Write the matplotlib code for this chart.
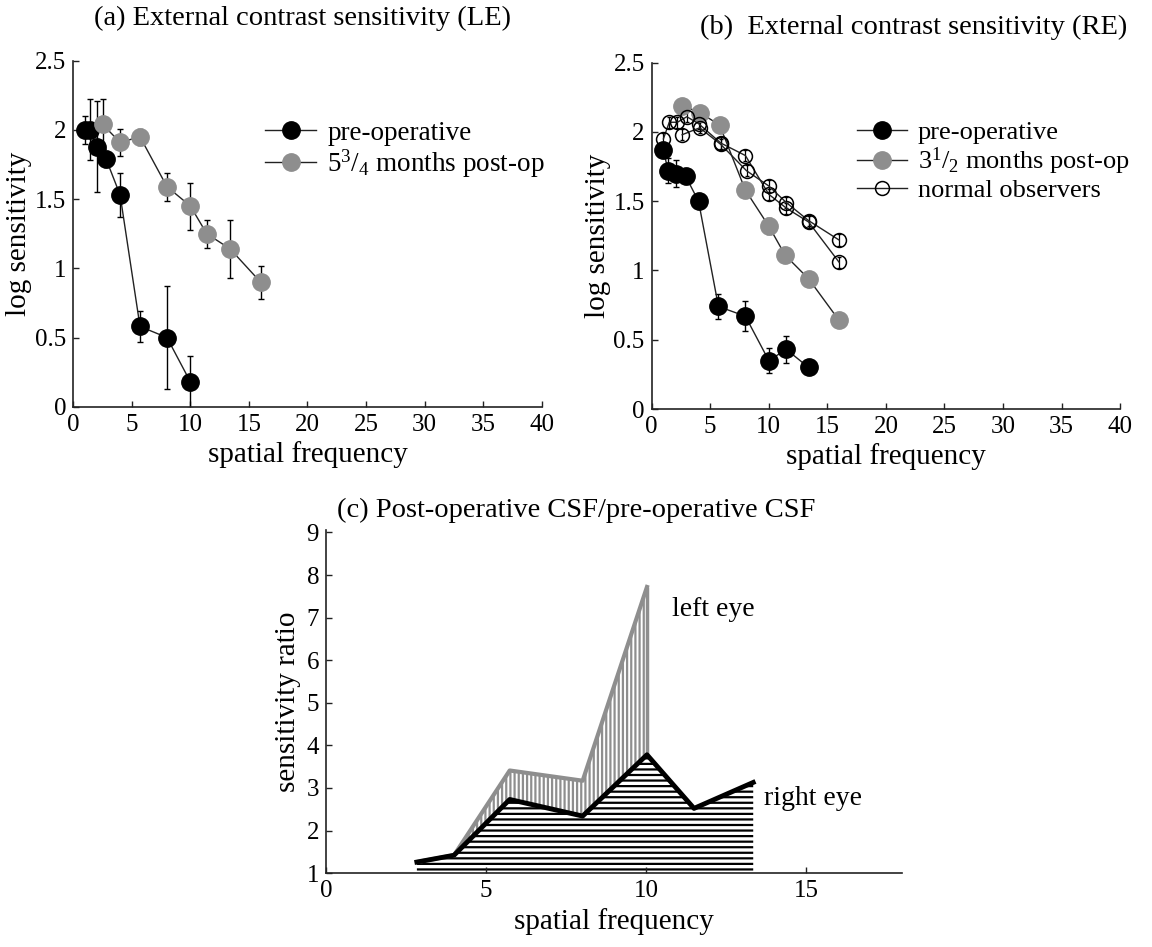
import numpy as np
import matplotlib
matplotlib.use("Agg")
import matplotlib.pyplot as plt

plt.rcParams['font.family'] = ['Liberation Serif', 'DejaVu Serif']
plt.rcParams['mathtext.fontset'] = 'custom'
plt.rcParams['mathtext.rm'] = 'Liberation Serif'
plt.rcParams['mathtext.it'] = 'Liberation Serif:italic'
plt.rcParams['hatch.linewidth'] = 1.6

GRAY = '#8e8e8e'

# (a) left eye
le_pre_f = [1.0, 1.4, 2.0, 2.8, 4.0, 5.7, 8.0, 10.0]
le_pre_s = [2.00, 2.00, 1.88, 1.79, 1.53, 0.58, 0.50, 0.18]
le_pre_err = [0.10, 0.22, 0.33, 0.06, 0.16, 0.11, 0.37, 0.19]
le_post_f = [2.5, 4.0, 5.7, 8.0, 10.0, 11.4, 13.4, 16.0]
le_post_s = [2.04, 1.91, 1.95, 1.59, 1.45, 1.25, 1.14, 0.90]
le_post_err = [0.18, 0.10, 0.06, 0.10, 0.17, 0.10, 0.21, 0.12]

# (b) right eye
re_pre_f = [1.0, 1.4, 2.1, 2.9, 4.0, 5.7, 8.0, 10.0, 11.5, 13.4]
re_pre_s = [1.87, 1.72, 1.70, 1.68, 1.50, 0.74, 0.67, 0.35, 0.43, 0.30]
re_pre_err = [0.05, 0.09, 0.10, 0.03, 0.0, 0.09, 0.11, 0.09, 0.095, 0.0]
re_post_f = [2.6, 4.1, 5.8, 8.0, 10.0, 11.4, 13.4, 16.0]
re_post_s = [2.19, 2.14, 2.05, 1.58, 1.32, 1.11, 0.94, 0.64]
re_post_err = [0.03, 0.03, 0.03, 0.05, 0.06, 0.03, 0.05, 0.04]
norm1_f = [1.0, 1.5, 2.2, 3.0, 4.0, 5.9, 8.0, 10.0, 11.5, 13.4, 16.0]
norm1_s = [1.95, 2.07, 2.07, 2.11, 2.06, 1.92, 1.83, 1.55, 1.45, 1.35, 1.06]
norm2_f = [2.6, 4.1, 5.9, 8.1, 10.0, 11.5, 13.4, 16.0]
norm2_s = [1.98, 2.03, 1.91, 1.72, 1.61, 1.49, 1.36, 1.22]
norm_err = 0.04

# (c) ratio post/pre
right_f = [2.84, 4.0, 5.74, 8.02, 10.03, 11.5, 13.35]
right_r = [1.26, 1.42, 2.73, 2.34, 3.78, 2.52, 3.13]
left_f = [2.84, 4.0, 5.74, 8.02, 10.03]
left_r = [1.26, 1.42, 3.41, 3.17, 7.72]

fig = plt.figure(figsize=(11.52, 9.47), dpi=100)
ax_a = fig.add_axes([0.0636, 0.5705, 0.4066, 0.3654])
ax_b = fig.add_axes([0.5657, 0.5681, 0.4066, 0.3657])
ax_c = fig.add_axes([0.283, 0.078, 0.5, 0.362])


def style(ax):
    for s in ['top', 'right']:
        ax.spines[s].set_visible(False)
    for s in ['left', 'bottom']:
        ax.spines[s].set_linewidth(1.2)
        ax.spines[s].set_color('#222222')
    ax.tick_params(direction='in', length=4, width=1, labelsize=18, pad=5, colors='#222222', labelcolor='black')


def csf(ax, f, s, err, face, ms, label):
    ax.errorbar(f, s, yerr=err, fmt='none', ecolor='black', elinewidth=1, capsize=2.5, capthick=1, zorder=2)
    ax.plot(f, s, '-', color='#222222', lw=1, marker='o', ms=ms, mfc=face, mec=face, label=label, zorder=3)


for ax in (ax_a, ax_b):
    style(ax)
    ax.set_xlim(0, 40)
    ax.set_ylim(0, 2.5)
    ax.set_xticks(range(0, 41, 5))
    ax.set_yticks([0, 0.5, 1, 1.5, 2, 2.5])
    ax.set_yticklabels(['0', '0.5', '1', '1.5', '2', '2.5'])
    ax.set_xlabel('spatial frequency', fontsize=21, labelpad=4)
    ax.set_ylabel('log sensitivity', fontsize=21, labelpad=2)

csf(ax_a, le_pre_f, le_pre_s, le_pre_err, 'black', 12.5, 'pre-operative')
csf(ax_a, le_post_f, le_post_s, le_post_err, GRAY, 12.5, '5$^3$/$_4$ months post-op')
ax_a.legend(loc='upper left', bbox_to_anchor=(0.38, 0.865), frameon=False, fontsize=19.5,
            handlelength=1.9, handletextpad=0.4, labelspacing=0.05, borderpad=0)

csf(ax_b, re_pre_f, re_pre_s, re_pre_err, 'black', 12.5, 'pre-operative')
csf(ax_b, re_post_f, re_post_s, re_post_err, GRAY, 12.5, '3$^1$/$_2$ months post-op')
for f, s in [(norm1_f, norm1_s), (norm2_f, norm2_s)]:
    ax_b.errorbar(f, s, yerr=norm_err, fmt='none', ecolor='black', elinewidth=0.9, capsize=1.5, zorder=2)
ax_b.plot(norm1_f, norm1_s, '-', color='#222222', lw=1, marker='o', ms=10, mfc='none', mec='black',
          mew=1.1, label='normal observers', zorder=3)
ax_b.plot(norm2_f, norm2_s, '-', color='#222222', lw=1, marker='o', ms=10, mfc='none', mec='black',
          mew=1.1, zorder=3)
ax_b.legend(loc='upper left', bbox_to_anchor=(0.41, 0.87), frameon=False, fontsize=19,
            handlelength=1.9, handletextpad=0.4, labelspacing=0.05, borderpad=0)

fig.text(0.263, 0.981, '(a) External contrast sensitivity (LE)', fontsize=20.5, ha='center', va='center')
fig.text(0.793, 0.971, '(b)  External contrast sensitivity (RE)', fontsize=20.5, ha='center', va='center')

# (c)
style(ax_c)
ax_c.set_xlim(0, 18)
ax_c.set_ylim(1, 9.05)
ax_c.set_xticks([0, 5, 10, 15])
ax_c.set_yticks(range(1, 10))
ax_c.set_xlabel('spatial frequency', fontsize=21, labelpad=4)
ax_c.set_ylabel('sensitivity ratio', fontsize=21, labelpad=4)

rf = np.array(right_f)
rr = np.array(right_r)
lf = np.array(left_f)
lr = np.array(left_r)
ax_c.fill_between(rf, 1, rr, facecolor='none', edgecolor='black', hatch='---', linewidth=0, zorder=1)
ax_c.fill_between(lf, np.interp(lf, rf, rr), lr, facecolor='none', edgecolor=GRAY, hatch='||||',
                  linewidth=0, zorder=1)
ax_c.vlines(lf[-1], np.interp(lf[-1], rf, rr), lr[-1], color=GRAY, lw=2.5, zorder=2)
ax_c.plot(lf, lr, '-', color=GRAY, lw=3, zorder=3)
ax_c.plot(rf, rr, '-', color='black', lw=3.5, zorder=4)
ax_c.text(10.8, 7.2, 'left eye', fontsize=20, va='center')
ax_c.text(13.7, 2.75, 'right eye', fontsize=20, va='center')
fig.text(0.5, 0.461, '(c) Post-operative CSF/pre-operative CSF', fontsize=20.5, ha='center', va='center')

fig.savefig('out.png', dpi=100)
